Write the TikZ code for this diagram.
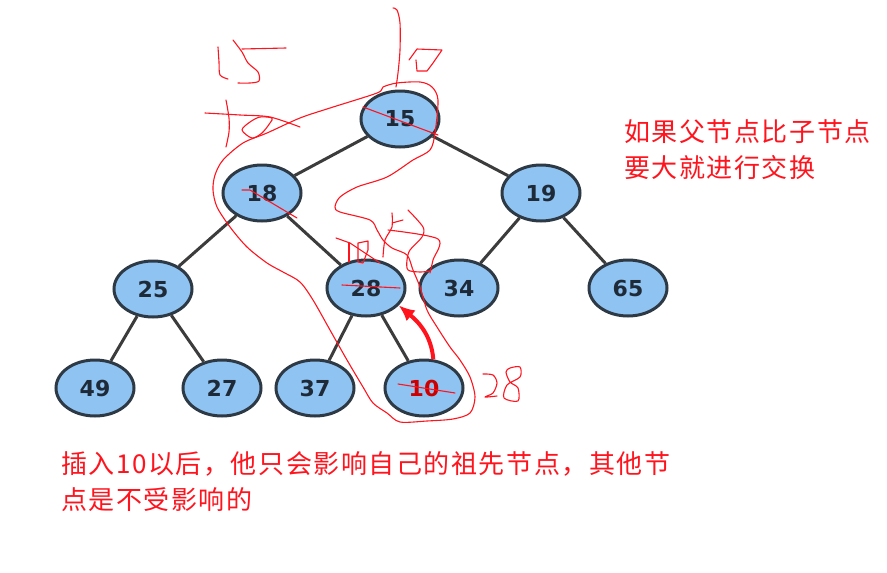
\documentclass[tikz,border=0pt]{standalone}
\usepackage{fontspec}
\setsansfont{DejaVu Sans}
\newfontfamily\cjk[LetterSpace=6]{Noto Sans CJK SC}
\usetikzlibrary{shapes.geometric,arrows.meta}
\definecolor{nodeblue}{RGB}{143,195,242}
\definecolor{nodeedge}{RGB}{45,58,70}
\definecolor{edgegray}{RGB}{60,60,60}
\definecolor{numdark}{RGB}{30,42,56}
\definecolor{pen}{RGB}{255,20,30}
\tikzset{heapnode/.style={ellipse, draw=nodeedge, fill=nodeblue, line width=3pt,
		minimum width=78pt, minimum height=56pt, inner sep=0pt,
		font=\sffamily\bfseries\fontsize{22}{22}\selectfont, text=numdark},
	heapedge/.style={draw=edgegray, line width=3pt},
	scribble/.style={draw=pen, line width=1.1pt, line join=round, line cap=round},
	note/.style={anchor=north west, inner sep=0pt, align=left, text=pen,
		font=\cjk\fontsize{26}{36}\selectfont}}

\begin{document}
\begin{tikzpicture}[x=1pt,y=-1pt]
		\useasboundingbox (0,0) rectangle (887,573);
		%		heap after inserting 10
		\node[heapnode] (n15) at (400,119){15};
		\node[heapnode] (n18) at (262,193){18};
		\node[heapnode] (n19) at (541,193){19};
		\node[heapnode] (n25) at (153,289){25};
		\node[heapnode] (n28) at (366,288){28};
		\node[heapnode] (n34) at (459,288){34};
		\node[heapnode] (n65) at (628,288){65};
		\node[heapnode] (n49) at (95,388){49};
		\node[heapnode] (n27) at (222,388){27};
		\node[heapnode] (n37) at (315,388){37};
		\node[heapnode, text=red!80!black] (n10) at (424,388){10};
		\draw[heapedge] (n15) -- (n18);
		\draw[heapedge] (n15) -- (n19);
		\draw[heapedge] (n18) -- (n25);
		\draw[heapedge] (n18) -- (n28);
		\draw[heapedge] (n19) -- (n34);
		\draw[heapedge] (n19) -- (n65);
		\draw[heapedge] (n25) -- (n49);
		\draw[heapedge] (n25) -- (n27);
		\draw[heapedge] (n28) -- (n37);
		\draw[heapedge] (n28) -- (n10);
		% swap arrow
		\draw[draw=pen, line width=4pt, -{Latex[length=16pt,width=14pt]}] (n10.72) to[out=95,in=-40] (n28.-28);
		% strike outs
		\draw[scribble] (363,107) -- (438,135);
		\draw[scribble] (242,190) -- (250,190) -- (297,218);
		\draw[scribble] (342,285) -- (400,288);
		\draw[scribble] (398,384) -- (455,393);
		% handwritten 15 and 10 top left
		\draw[scribble] plot[smooth] coordinates {(218,47) (219,62) (220,75) (228,79)};
		\draw[scribble] plot[smooth] coordinates {(233,40) (242,52) (248,63) (258,72) (259,81) (250,83) (238,83)};
		\draw[scribble] (242,49) -- (286,48);
		\draw[scribble] plot[smooth] coordinates {(226,100) (229,118) (229,132) (226,147)};
		\draw[scribble] plot[smooth] coordinates {(205,113) (240,115) (270,117) (300,127)};
		\draw[scribble] plot[smooth cycle] coordinates {(242,130) (252,138) (262,133) (270,123) (272,118) (260,117) (250,122)};
		% handwritten 10 top
		\draw[scribble] plot[smooth] coordinates {(393,8) (397,10) (400,23) (400,50) (398,73) (396,87)};
		\draw[scribble] plot coordinates {(409,60) (417,49) (442,50) (433,63) (427,71) (417,71) (416,60)};
		% scribble above 28
		\draw[scribble] (336,238) -- (350,243) -- (380,263);
		\draw[scribble] (349,243) -- (349,262);
		\draw[scribble] plot coordinates {(358,243) (368,241) (368,250) (363,263) (358,262) (358,243)};
		\draw[scribble] plot[smooth] coordinates {(392,213) (392,227) (385,240) (383,257)};
		\draw[scribble] (392,223) -- (403,220);
		\draw[scribble] plot[smooth] coordinates {(388,230) (438,239) (433,260) (430,273)};
		\draw[scribble] plot[smooth] coordinates {(408,210) (423,227) (422,237) (410,250) (407,260) (408,270) (420,272) (430,271)};
		% handwritten 28 beside 10
		\draw[scribble] plot[smooth] coordinates {(483,374) (493,375) (497,383) (493,393) (485,397) (497,396)};
		\draw[scribble] plot[smooth cycle] coordinates {(510,368) (520,367) (520,377) (507,385) (504,398) (518,401) (518,388) (510,382) (506,372)};
		% loop round the path
		\draw[scribble] plot[smooth cycle] coordinates {(243,143) (267,133) (300,118) (330,108) (377,93) (383,87) (397,83) (420,82) (432,87) (438,100) (435,133) (430,150) (413,160) (387,177) (357,187) (340,197) (335,207) (340,212) (370,220) (377,230) (383,240) (392,248) (407,255) (413,270) (420,287) (427,310) (437,327) (450,347) (460,360) (470,377) (475,397) (470,413) (453,419) (427,421) (400,422) (387,413) (373,403) (363,387) (347,360) (330,330) (313,300) (300,282) (283,272) (267,263) (247,247) (230,227) (217,207) (213,190) (215,175) (223,160)};
		% notes
		\node[note] (rule) at (624,119) {如果父节点比子节点\\要大就进行交换};
		\node[note] (effect) at (61,451) {插入10以后，他只会影响自己的祖先节点，其他节\\点是不受影响的};
		\end{tikzpicture}
\end{document}
